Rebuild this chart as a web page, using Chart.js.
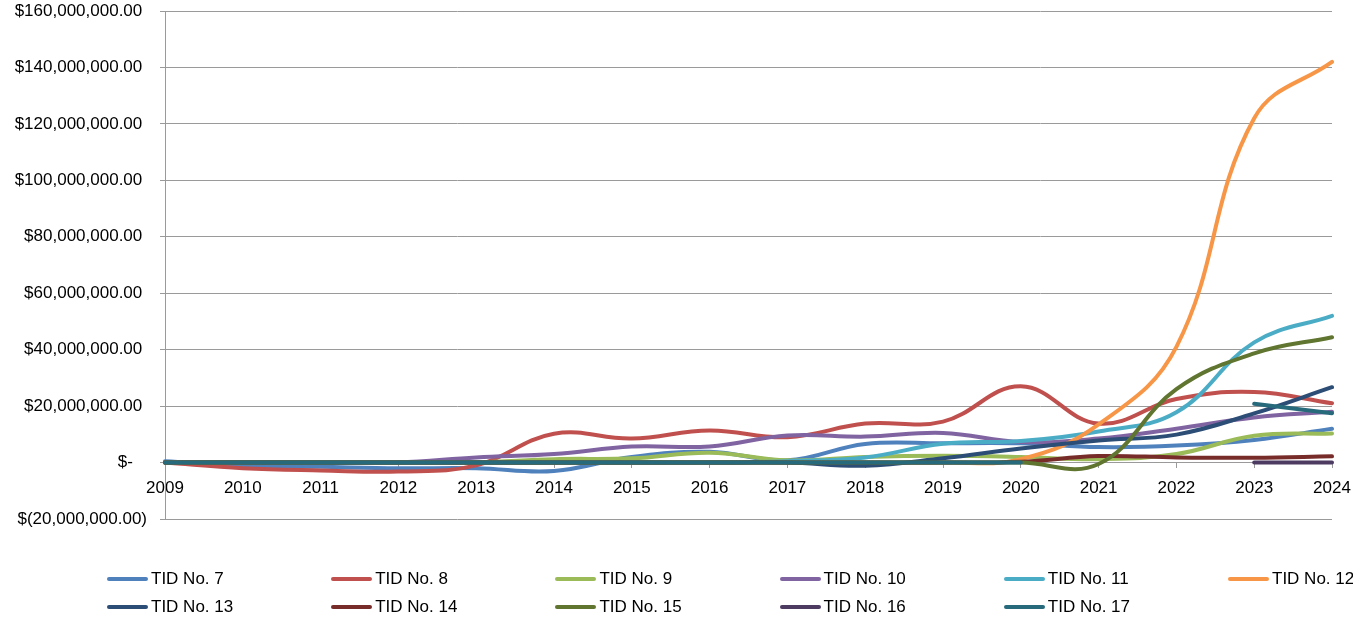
<!DOCTYPE html>
<html>
<head>
<meta charset="utf-8">
<script src="https://cdn.jsdelivr.net/npm/chart.js@4/dist/chart.umd.min.js"></script>
<style>
    html, body { margin: 0; padding: 0; background: #fff; overflow: hidden; }
    #wrap { position: relative; width: 1353px; height: 620px; overflow: hidden; }
    #legend { position: absolute; left: 0; top: 0; width: 1353px; height: 620px; pointer-events: none; }
    .item { position: absolute; height: 20px; white-space: nowrap; font: 17px "Liberation Sans", Arial, sans-serif; color: #000; }
    .item .sw { position: absolute; left: 0; top: 8px; width: 41px; height: 4px; border-radius: 2px; }
    .item .tx { position: absolute; left: 44px; top: 0; line-height: 20px; }
</style>
</head>
<body>
<div id="wrap">
    <canvas id="tidChart"></canvas>
    <div id="legend"></div>
</div>
<script>
// values in millions of dollars
const years = ['2009', '2010', '2011', '2012', '2013', '2014', '2015', '2016', '2017', '2018', '2019', '2020', '2021', '2022', '2023', '2024'];

const tid7  = [0.5, -1, -1.5, -2, -2, -3, 2, 3.8, 0.8, 6.6, 6.8, 6.8, 5.5, 6, 8, 12];
const tid8  = [0, -2, -2.8, -3.2, -1, 10.2, 8.5, 11.4, 9, 13.8, 14.5, 27, 13.8, 22.5, 25, 21];
const tid9  = [0, 0, 0, 0, 0, 1.2, 1.5, 3.5, 0.8, 2, 2.4, 2, 1.2, 3, 9.5, 10.3];
const tid10 = [0, 0, 0, 0, 1.8, 3, 5.7, 5.7, 9.6, 9.2, 10.5, 7.3, 8.5, 12, 16, 18];
const tid11 = [0, 0, 0, 0, 0, 0, 0, 0, 0.5, 1.8, 6.7, 7.6, 11, 17.8, 42.6, 52];
const tid12 = [0, 0, 0, 0, 0, 0, 0, 0, 0, 0, 0, 1.2, 13.5, 41, 122, 142];
const tid13 = [0, 0, 0, 0, 0, 0, 0, 0, 0, -1.1, 1.5, 5, 7.8, 9.9, 17.4, 26.7];
const tid14 = [0, 0, 0, 0, 0, 0, 0, 0, 0, 0, 0, 0.3, 2.3, 1.8, 1.7, 2.2];
const tid15 = [0, 0, 0, 0, 0, 0, 0, 0, 0, 0, 0, 0, -0.5, 26, 38.7, 44.4];
const tid16 = [null, null, null, null, null, null, null, null, null, null, null, null, null, null, 0, 0];
const tid17 = [0, 0, 0, 0, 0, 0, 0, 0, 0, 0, 0, 0, null, null, 20.8, 17.5];

const seriesNames = ['TID No. 7', 'TID No. 8', 'TID No. 9', 'TID No. 10', 'TID No. 11', 'TID No. 12',
                     'TID No. 13', 'TID No. 14', 'TID No. 15', 'TID No. 16', 'TID No. 17'];
const seriesData = [tid7, tid8, tid9, tid10, tid11, tid12, tid13, tid14, tid15, tid16, tid17];
const seriesColors = ['#4F81BD', '#C0504D', '#9BBB59', '#8064A2', '#4BACC6', '#F79646',
                      '#2C4D75', '#772C2A', '#5F7530', '#4D3B62', '#276A7C'];

// bottom to top, -20M .. 160M
const yTickLabels = ['$(20,000,000.00)', '$-   ', '$20,000,000.00 ', '$40,000,000.00 ', '$60,000,000.00 ',
                     '$80,000,000.00 ', '$100,000,000.00 ', '$120,000,000.00 ', '$140,000,000.00 ', '$160,000,000.00 '];

const gridColor = '#9a9a9a';
const fontSpec = { family: '"Liberation Sans", Arial, sans-serif', size: 17 };

const datasets = seriesNames.map(function(name, i) {
    return {
        label: name,
        data: seriesData[i].map(v => v === null ? null : v * 1000000),
        borderColor: seriesColors[i],
        backgroundColor: seriesColors[i],
        borderWidth: 4,
        borderCapStyle: 'round',
        borderJoinStyle: 'round',
        pointRadius: 0,
        pointHoverRadius: 0,
        tension: 0.4,
        fill: false,
        order: seriesNames.length - i
    };
});

const chart = new Chart(document.getElementById('tidChart').getContext('2d'), {
    type: 'line',
    data: { labels: years, datasets: datasets },
    options: {
        responsive: true,
        maintainAspectRatio: false,
        animation: false,
        layout: {
            autoPadding: false,
            padding: { left: 0, right: 21, top: 11, bottom: 101 }
        },
        plugins: {
            legend: { display: false },
            tooltip: { enabled: false }
        },
        scales: {
            x: {
                position: { y: 0 },
                offset: false,
                // labels may hang past the plot edges, like in the sheet
                afterFit: function(scale) { scale.paddingLeft = 0; scale.paddingRight = 0; },
                grid: { drawOnChartArea: false, drawTicks: true, tickLength: 5, color: gridColor },
                border: { display: true, color: gridColor, width: 1 },
                ticks: { color: '#000', font: fontSpec, padding: 11, maxRotation: 0, autoSkip: false }
            },
            y: {
                min: -20000000,
                max: 160000000,
                afterFit: function(scale) {
                    scale.width = 165;
                    scale.paddingTop = 0;
                    scale.paddingBottom = 0;
                },
                grid: { color: gridColor, tickLength: 5, drawTicks: true },
                border: { display: true, color: gridColor, width: 1 },
                ticks: {
                    stepSize: 20000000,
                    color: '#000',
                    font: fontSpec,
                    padding: 13,
                    callback: function(value, index) { return yTickLabels[index]; }
                }
            }
        }
    }
});

// legend laid out like the spreadsheet: six fixed columns, two rows
const legendEl = document.getElementById('legend');
chart.data.datasets.forEach(function(ds, i) {
    const col = i % 6, row = Math.floor(i / 6);
    const item = document.createElement('div');
    item.className = 'item';
    item.style.left = (107 + col * 224.2) + 'px';
    item.style.top = (569 + row * 28) + 'px';
    item.innerHTML = '<span class="sw" style="background:' + ds.borderColor + '"></span><span class="tx">' + ds.label + '</span>';
    legendEl.appendChild(item);
});
</script>
</body>
</html>
